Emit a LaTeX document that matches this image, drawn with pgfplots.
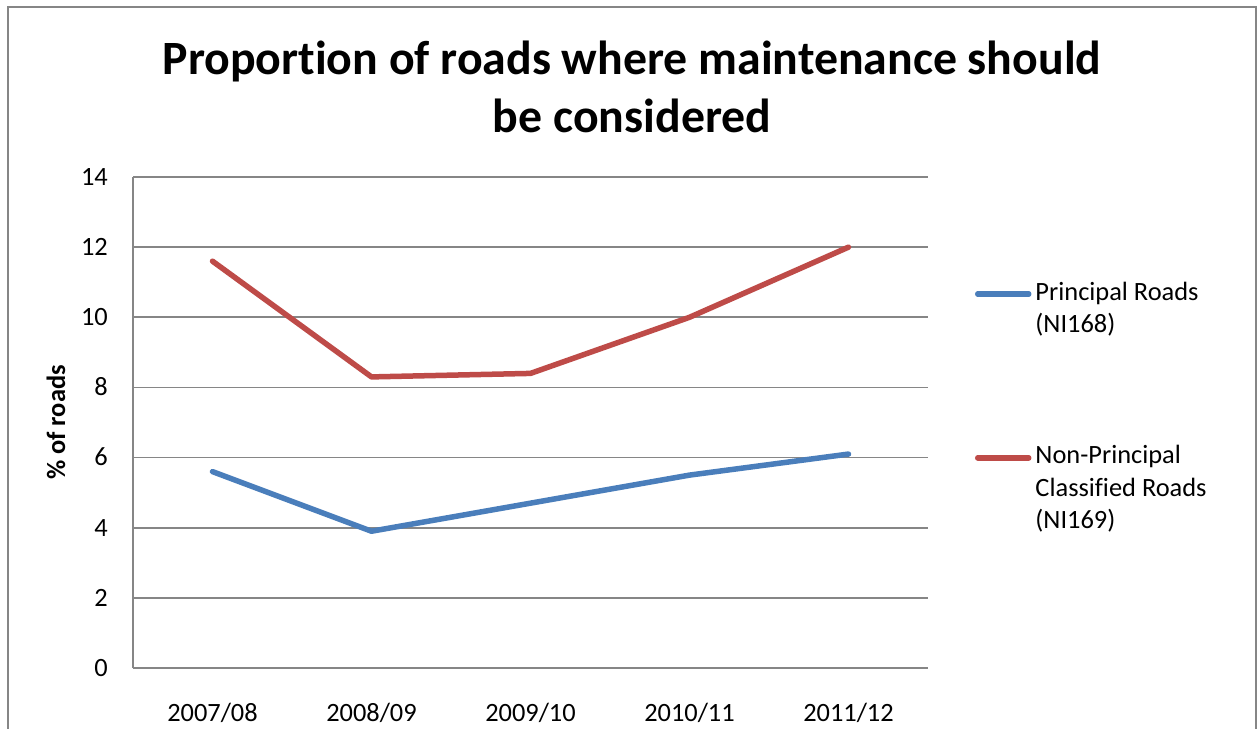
\documentclass[border=0pt]{standalone}
\usepackage{pgfplots}
\pgfplotsset{compat=1.18}
\usepackage{fontspec}
\setmainfont{Carlito}[Ligatures={NoCommon,NoDiscretionary}]
\definecolor{xlblue}{HTML}{4A7EBB}
\definecolor{xlred}{HTML}{BE4B48}
\definecolor{xlgray}{HTML}{868686}
\newcommand{\smallfont}{\fontsize{26.4bp}{32.4bp}\selectfont}
\newcommand{\legA}{\smallfont\begin{tabular}[t]{@{}l@{}}Principal Roads\\(NI168)\end{tabular}}
\newcommand{\legB}{\smallfont\begin{tabular}[t]{@{}l@{}}Non-Principal\\Classified Roads\\(NI169)\end{tabular}}
\begin{document}
\begin{tikzpicture}
\useasboundingbox (0,0) rectangle (1258bp,-729bp);
\draw[xlgray, line width=2bp] (8bp,-740bp) -- (8bp,-7bp) -- (1256bp,-7bp) -- (1256bp,-740bp);
\node[anchor=base, font=\fontsize{47.8bp}{58.4bp}\selectfont\bfseries, inner sep=0pt] at (632bp,-74.3bp) {Proportion of roads where maintenance should};
\node[anchor=base, font=\fontsize{47.8bp}{58.4bp}\selectfont\bfseries, inner sep=0pt] at (632bp,-132.7bp) {be considered};
\begin{axis}[
  at={(133bp,-668bp)}, anchor=south west,
  scale only axis, width=795bp, height=491bp,
  xmin=-0.5, xmax=4.5, ymin=0, ymax=14,
  xtick={0,1,2,3,4},
  xticklabels={2007/08,2008/09,2009/10,2010/11,2011/12},
  ytick={0,2,4,6,8,10,12,14},
  axis lines*=left,
  axis line style={xlgray, line width=1.8bp},
  ymajorgrids,
  grid style={xlgray, line width=1.8bp},
  major tick length=0pt,
  /pgf/number format/assume math mode=true,
  tick label style={font=\smallfont, inner sep=0pt},
  xticklabel style={anchor=base, yshift=-53bp},
  yticklabel style={anchor=base east, xshift=-25bp, yshift=-8.3bp},
  every axis y label/.style={at={(axis description cs:-0.0855,0.5)}, anchor=base, rotate=90, font=\smallfont\bfseries, inner sep=0pt},
  ylabel={\% of roads},
  legend style={at={(axis description cs:1.0591,0.7902)}, anchor=north west, draw=none, fill=none, inner sep=0pt, outer sep=0pt, column sep=4bp, row sep=143.8bp, cells={anchor=base west}, nodes={inner sep=0pt, outer sep=0pt, text height=20bp, text depth=0bp}},
  legend image code/.code={\draw[#1, line cap=round] (0bp,6bp) -- (51bp,6bp);},
]
\addplot[xlblue, line width=5.5bp, line cap=round, line join=round] coordinates {(0,5.6) (1,3.9) (2,4.7) (3,5.5) (4,6.1)};
\addlegendentry{\legA}
\addplot[xlred, line width=5.5bp, line cap=round, line join=round] coordinates {(0,11.6) (1,8.3) (2,8.4) (3,10.0) (4,12.0)};
\addlegendentry{\legB}
\end{axis}
\end{tikzpicture}
\end{document}
